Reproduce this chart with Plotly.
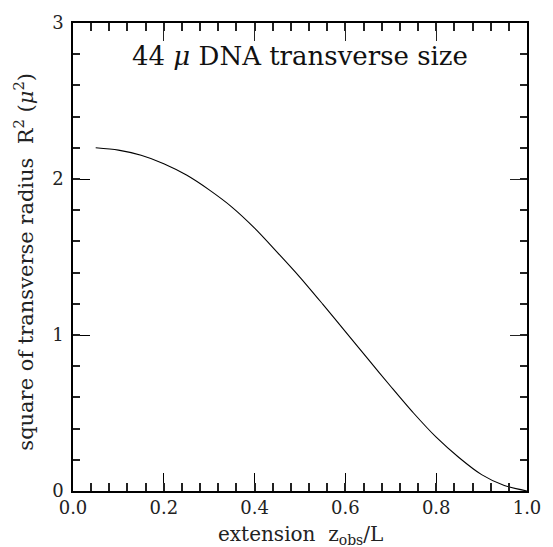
import plotly.graph_objects as go

extension = [0.05, 0.10, 0.15, 0.20, 0.25, 0.30, 0.35, 0.40, 0.45, 0.50,
             0.55, 0.60, 0.65, 0.70, 0.75, 0.80, 0.85, 0.90, 0.95, 1.00]
r2 = [2.200, 2.185, 2.152, 2.098, 2.025, 1.930, 1.820, 1.685, 1.530, 1.370,
      1.198, 1.022, 0.845, 0.670, 0.500, 0.345, 0.215, 0.105, 0.035, 0.0]

x_range, x_tick_step, x_minor_step = [0, 1], 0.2, 0.04
y_range, y_tick_step, y_minor_step = [0, 3], 1, 0.2

FONT = "DejaVu Serif"

fig = go.Figure()
fig.add_trace(go.Scatter(x=extension, y=r2, mode="lines",
                         line=dict(color="black", width=1.1, shape="spline", smoothing=0.8),
                         showlegend=False, hoverinfo="skip"))
# transparent copies so that the extra tick axes (minor / mirrored) are drawn
for xa, ya in [("x2", "y2"), ("x3", "y3"), ("x4", "y4")]:
    fig.add_trace(go.Scatter(x=extension, y=r2, mode="lines", xaxis=xa, yaxis=ya,
                             line=dict(color="rgba(0,0,0,0)", width=0.1),
                             showlegend=False, hoverinfo="skip"))

def tick_axis(rng, step, length, side, anchor, overlay, width, line=False):
    return dict(range=rng, overlaying=overlay, anchor=anchor, side=side, dtick=step,
                ticks="inside", ticklen=length, tickcolor="#222", tickwidth=width,
                showline=line, linecolor="black", linewidth=1.5,
                showticklabels=False, showgrid=False, zeroline=False)

fig.update_layout(
    xaxis=dict(range=x_range, dtick=x_tick_step, tickformat=".1f",
               ticks="inside", ticklen=18, tickcolor="black", tickwidth=1, showline=True,
               linecolor="black", linewidth=1.5, showgrid=False, zeroline=False,
               minor=dict(dtick=x_minor_step, ticks="inside", ticklen=8,
                          tickcolor="#222", tickwidth=1.5),
               tickfont=dict(family=FONT, size=18, color="#222")),
    yaxis=dict(range=y_range, dtick=y_tick_step, tickformat="d",
               ticks="inside", ticklen=17, tickcolor="black", tickwidth=1, showline=True,
               linecolor="black", linewidth=1.5, showgrid=False, zeroline=False,
               ticklabelstandoff=4,
               minor=dict(dtick=y_minor_step, ticks="inside", ticklen=7,
                          tickcolor="#222", tickwidth=1.5),
               tickfont=dict(family=FONT, size=18, color="#222")),
    # minor ticks, bottom and left
    xaxis2=tick_axis(x_range, x_minor_step, 8, "bottom", "y", "x", 1.5),
    yaxis2=tick_axis(y_range, y_minor_step, 7, "left", "x", "y", 1.5),
    # major ticks and frame, top and right
    xaxis3=tick_axis(x_range, x_tick_step, 18, "top", "y", "x", 1, line=True),
    yaxis3=tick_axis(y_range, y_tick_step, 17, "right", "x", "y", 1, line=True),
    # minor ticks, top and right
    xaxis4=tick_axis(x_range, x_minor_step, 8, "top", "y", "x", 1.5),
    yaxis4=tick_axis(y_range, y_minor_step, 7, "right", "x", "y", 1.5),
)

fig.add_annotation(text="44 <i>μ</i> DNA transverse size", xref="paper", yref="paper",
                   x=0.5, y=0.93, showarrow=False, xanchor="center", yanchor="middle",
                   font=dict(family=FONT, size=26, color="#111"))
fig.add_annotation(text="extension&nbsp;&nbsp;z<sub>obs</sub>/L", xref="paper", yref="paper",
                   x=0.5, y=-0.095, showarrow=False, xanchor="center", yanchor="middle",
                   font=dict(family=FONT, size=20, color="#222"))
fig.add_annotation(text="square of transverse radius&nbsp;&nbsp;R<sup>2</sup> (<i>μ</i><sup>2</sup>)",
                   xref="paper", yref="paper", x=-0.108, y=0.49, textangle=-90,
                   showarrow=False, xanchor="center", yanchor="middle",
                   font=dict(family=FONT, size=21, color="#222"))

fig.update_layout(width=553, height=547, margin=dict(l=73, r=17, t=19, b=56),
                  paper_bgcolor="white", plot_bgcolor="white")

fig.write_html("out.html")
